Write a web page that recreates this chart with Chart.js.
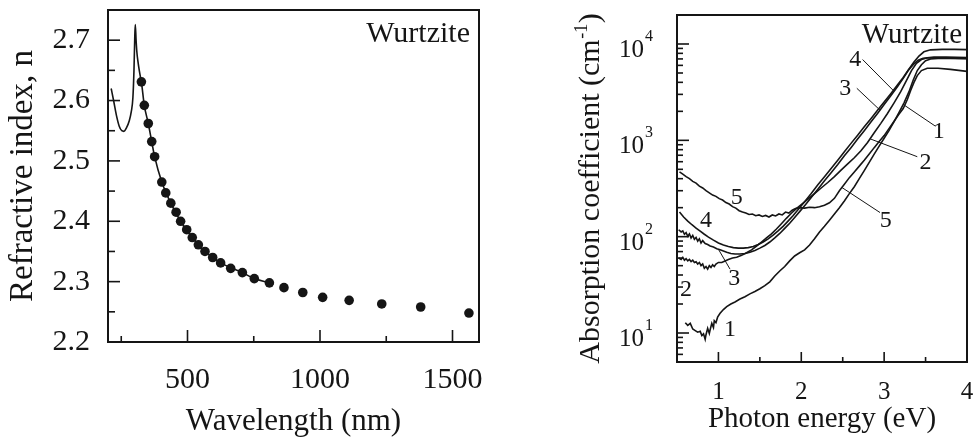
<!DOCTYPE html>
<html lang="en">
<head>
<meta charset="UTF-8">
<title>Wurtzite: refractive index and absorption</title>
<script src="https://cdn.jsdelivr.net/npm/chart.js"></script>
<style>
  html, body { margin: 0; padding: 0; background: #fff; overflow: hidden; }
  #wrap { position: relative; width: 975px; height: 440px; overflow: hidden; }
  canvas { position: absolute; top: 0; }
  #nChart { left: 0; }
  #alphaChart { left: 490px; }
</style>
</head>
<body>
<div id="wrap">
  <canvas id="nChart" width="490" height="440"></canvas>
  <canvas id="alphaChart" width="490" height="440"></canvas>
</div>
<script>
// ---- refractive index vs wavelength ----
const wlDots = [326, 337, 352, 365, 376, 403, 418, 437, 457, 474, 497, 518, 541, 566, 595, 625, 663, 707, 752, 809, 864, 935, 1010, 1110, 1233, 1380, 1562];
const nDots  = [2.631, 2.592, 2.562, 2.532, 2.507, 2.465, 2.447, 2.430, 2.415, 2.400, 2.386, 2.373, 2.361, 2.350, 2.340, 2.331, 2.322, 2.315, 2.305, 2.298, 2.290, 2.282, 2.274, 2.269, 2.263, 2.258, 2.248];
const wlLine = [212, 222, 232, 242, 252, 260, 270, 280, 288, 294, 298, 301, 303, 306, 309, 313, 318, 322, 326, 337, 352, 365, 376, 403, 437, 474, 518, 566, 625, 707, 752, 809, 825];
const nLine  = [2.620, 2.598, 2.575, 2.558, 2.550, 2.549, 2.555, 2.566, 2.582, 2.605, 2.650, 2.705, 2.726, 2.700, 2.680, 2.665, 2.650, 2.640, 2.631, 2.592, 2.562, 2.532, 2.507, 2.465, 2.430, 2.400, 2.373, 2.350, 2.331, 2.315, 2.305, 2.298, 2.296];
const wlTickLabels = [500, 1000, 1500];
const wlMinorTicks = [250, 750, 1250];
const nTickLabels = [2.2, 2.3, 2.4, 2.5, 2.6, 2.7];
const nMinorTicks = [2.25, 2.35, 2.45, 2.55, 2.65];

// ---- absorption coefficient vs photon energy, samples 1-5 ----
const e1 = [0.60, 0.63, 0.66, 0.69, 0.72, 0.75, 0.78, 0.80, 0.82, 0.84, 0.85, 0.87, 0.89, 0.90, 0.92, 0.94, 0.95, 0.97, 0.99, 1.02, 1.06, 1.10, 1.15, 1.20, 1.26, 1.32, 1.38, 1.44, 1.50, 1.56, 1.62, 1.68, 1.74, 1.80, 1.86, 1.92, 1.98, 2.04, 2.10, 2.16, 2.22, 2.28, 2.34, 2.40, 2.46, 2.52, 2.58, 2.64, 2.70, 2.76, 2.82, 2.88, 2.94, 3.00, 3.06, 3.12, 3.18, 3.24, 3.30, 3.35, 3.40, 3.45, 3.50, 3.56, 3.65, 3.80, 4.00];
const a1 = [12.8, 12.0, 12.6, 11.0, 10.6, 10.2, 10.4, 9.4, 9.8, 8.6, 9.6, 11.2, 9.9, 10.8, 12.6, 11.4, 13.4, 12.8, 14.6, 16.0, 17.5, 18.8, 20.0, 21.0, 22.5, 23.8, 25.5, 27.0, 28.8, 31.0, 34, 39, 44, 49, 56, 63, 68, 73, 82, 95, 112, 128, 148, 172, 200, 235, 280, 330, 400, 485, 590, 720, 870, 1050, 1270, 1560, 1950, 2450, 3200, 4200, 5300, 6100, 6700, 7000, 7100, 7100, 7050];
const e2 = [0.52, 0.55, 0.57, 0.59, 0.61, 0.63, 0.65, 0.67, 0.69, 0.71, 0.73, 0.75, 0.77, 0.79, 0.81, 0.83, 0.85, 0.87, 0.89, 0.91, 0.93, 0.95, 0.97, 1.00, 1.04, 1.08, 1.12, 1.17, 1.22, 1.28, 1.34, 1.40, 1.46, 1.52, 1.58, 1.64, 1.70, 1.76, 1.82, 1.88, 1.94, 2.00, 2.08, 2.16, 2.24, 2.32, 2.40, 2.48, 2.56, 2.64, 2.72, 2.80, 2.88, 2.96, 3.04, 3.12, 3.20, 3.27, 3.33, 3.39, 3.45, 3.52, 3.60, 3.75, 4.00];
const a2 = [60, 58, 61, 57, 59, 56, 58, 55, 57, 54, 55, 52, 54, 50, 52, 47, 49, 46, 50, 48, 51, 49, 52, 54, 54, 56, 58, 60, 61, 64, 68, 73, 80, 88, 97, 107, 120, 136, 155, 175, 195, 215, 245, 280, 320, 365, 420, 490, 570, 660, 780, 950, 1200, 1500, 1900, 2450, 3200, 4200, 5300, 6300, 6900, 7200, 7300, 7300, 7250];
const e3 = [0.52, 0.55, 0.57, 0.59, 0.61, 0.63, 0.65, 0.67, 0.69, 0.71, 0.73, 0.75, 0.77, 0.79, 0.81, 0.84, 0.87, 0.90, 0.94, 0.98, 1.02, 1.06, 1.10, 1.15, 1.20, 1.26, 1.32, 1.38, 1.44, 1.50, 1.56, 1.62, 1.68, 1.74, 1.80, 1.86, 1.92, 1.98, 2.05, 2.12, 2.20, 2.28, 2.36, 2.44, 2.52, 2.60, 2.68, 2.76, 2.84, 2.92, 3.00, 3.08, 3.16, 3.23, 3.29, 3.35, 3.41, 3.47, 3.55, 3.70, 4.00];
const a3 = [118, 112, 115, 106, 110, 101, 107, 97, 103, 94, 98, 90, 95, 86, 91, 85, 83, 80, 78, 75, 73, 71, 69, 67, 66, 66, 67, 69, 72, 76, 81, 88, 97, 108, 122, 138, 158, 182, 215, 255, 310, 380, 460, 560, 690, 840, 1030, 1260, 1550, 1900, 2350, 2900, 3600, 4400, 5300, 6100, 6800, 7100, 7200, 7150, 7100];
const e4 = [0.53, 0.58, 0.63, 0.68, 0.73, 0.78, 0.83, 0.88, 0.94, 1.00, 1.06, 1.12, 1.18, 1.24, 1.30, 1.36, 1.42, 1.48, 1.54, 1.60, 1.66, 1.72, 1.78, 1.84, 1.90, 1.96, 2.04, 2.12, 2.20, 2.28, 2.36, 2.44, 2.52, 2.60, 2.68, 2.76, 2.84, 2.92, 3.00, 3.08, 3.16, 3.23, 3.30, 3.36, 3.42, 3.48, 3.56, 3.70, 3.85, 4.00];
const a4 = [180, 160, 145, 133, 123, 114, 106, 99, 92, 86, 82, 79, 77, 76, 76, 77, 79, 83, 88, 95, 104, 115, 128, 145, 165, 190, 230, 280, 345, 420, 510, 620, 760, 930, 1130, 1380, 1680, 2050, 2500, 3050, 3750, 4500, 5500, 6500, 7500, 8300, 8700, 8800, 8800, 8750];
const e5 = [0.53, 0.57, 0.61, 0.65, 0.69, 0.73, 0.77, 0.81, 0.85, 0.89, 0.93, 0.97, 1.01, 1.05, 1.09, 1.13, 1.17, 1.21, 1.25, 1.29, 1.33, 1.37, 1.41, 1.45, 1.49, 1.53, 1.57, 1.61, 1.65, 1.69, 1.73, 1.77, 1.81, 1.85, 1.89, 1.93, 1.98, 2.04, 2.10, 2.16, 2.22, 2.28, 2.34, 2.40, 2.46, 2.52, 2.58, 2.64, 2.70, 2.76, 2.82, 2.88, 2.94, 3.00, 3.06, 3.12, 3.18, 3.23, 3.28, 3.32, 3.36, 3.40, 3.45, 3.52, 3.65, 3.80, 4.00];
const a5 = [470, 445, 420, 400, 375, 360, 335, 320, 300, 285, 270, 262, 248, 240, 226, 218, 205, 198, 186, 180, 176, 170, 172, 165, 168, 162, 166, 160, 168, 164, 172, 168, 180, 176, 188, 196, 200, 198, 202, 200, 204, 212, 225, 250, 300, 350, 410, 470, 540, 620, 720, 840, 970, 1120, 1330, 1580, 1870, 2140, 2650, 3300, 4000, 4700, 5300, 5600, 5600, 5450, 5200];
const energyTickLabels = [1, 2, 3, 4];
const energyMinorTicks = [1.5, 2.5, 3.5];
const alphaDecades = [1, 2, 3, 4];
const alphaMinorTicks = [5, 6, 7, 8, 9, 20, 30, 40, 50, 60, 70, 80, 90, 200, 300, 400, 500, 600, 700, 800, 900, 2000, 3000, 4000, 5000, 6000, 7000, 8000, 9000];

// curve numbers: label text, label centre (E, alpha), leader start (E, alpha), leader end energy on the curve
const tagText   = ['4', '3', '1', '2', '5', '5', '4', '3', '2', '1'];
const tagE      = [2.65, 2.53, 3.66, 3.50, 3.02, 1.22, 0.85, 1.19, 0.61, 1.14];
const tagAlpha  = [6900, 3470, 1230, 590, 148, 251, 145, 37, 28, 10.8];
const leadFromE = [2.74, 2.67, 3.62, 3.40, 2.95, null, null, 1.14, null, null];
const leadFromA = [6900, 3470, 1400, 676, 178, null, null, 46, null, null];
const leadToE   = [3.11, 2.95, 3.23, 2.83, 2.49, null, null, 1.00, null, null];

const ink = '#151515';
const serif = '"Liberation Serif", "Times New Roman", serif';
Chart.defaults.font.family = serif;
Chart.defaults.color = ink;

const pts = (xs, ys) => xs.map((x, i) => ({ x: x, y: ys[i] }));
const curves = [[e1, a1], [e2, a2], [e3, a3], [e4, a4], [e5, a5]];

// alpha of a curve at energy e, interpolated on the log scale
function alphaAt(k, e) {
  const [es, as] = curves[k];
  for (let i = 1; i < es.length; i++) {
    if (es[i] >= e) {
      const t = (e - es[i - 1]) / (es[i] - es[i - 1]);
      return Math.pow(10, Math.log10(as[i - 1]) + t * (Math.log10(as[i]) - Math.log10(as[i - 1])));
    }
  }
  return as[as.length - 1];
}

// box frame, inward ticks and the "Wurtzite" tag
const panelDecor = {
  id: 'panelDecor',
  afterDraw(chart, args, o) {
    const { ctx, chartArea: a, scales: { x, y } } = chart;
    ctx.save();
    ctx.strokeStyle = ink;
    ctx.lineWidth = 1.6;
    const seg = (x0, y0, x1, y1) => { ctx.beginPath(); ctx.moveTo(x0, y0); ctx.lineTo(x1, y1); ctx.stroke(); };
    o.xMajor.forEach(v => { const p = x.getPixelForValue(v); seg(p, a.bottom, p, a.bottom - o.xMajorLen); });
    o.xMinor.forEach(v => { const p = x.getPixelForValue(v); seg(p, a.bottom, p, a.bottom - o.xMinorLen); });
    o.yMajor.forEach(v => { const p = y.getPixelForValue(v); seg(a.left, p, a.left + o.yMajorLen, p); });
    o.yMinor.forEach(v => { const p = y.getPixelForValue(v); seg(a.left, p, a.left + o.yMinorLen, p); });
    ctx.lineWidth = 2;
    ctx.strokeRect(a.left, a.top, a.right - a.left, a.bottom - a.top);
    ctx.fillStyle = ink;
    ctx.font = o.tagSize + 'px ' + serif;
    ctx.textAlign = 'right';
    ctx.textBaseline = 'alphabetic';
    ctx.fillText('Wurtzite', a.right - o.tagDx, a.top + o.tagDy);
    ctx.restore();
  }
};

// ---- left panel ----
new Chart(document.getElementById('nChart'), {
  type: 'scatter',
  data: {
    datasets: [
      { data: pts(wlDots, nDots), pointRadius: 4.8, pointBackgroundColor: ink, pointBorderWidth: 0 },
      { data: pts(wlLine, nLine), showLine: true, pointRadius: 0, borderColor: ink, borderWidth: 1.6, cubicInterpolationMode: 'monotone' }
    ]
  },
  options: {
    responsive: false,
    animation: false,
    layout: { padding: { top: 10, right: 11, left: 0, bottom: 0 } },
    plugins: {
      legend: { display: false },
      tooltip: { enabled: false },
      panelDecor: { xMajor: wlTickLabels, xMinor: wlMinorTicks, yMajor: nTickLabels, yMinor: nMinorTicks,
                    xMajorLen: 12, xMinorLen: 6, yMajorLen: 12, yMinorLen: 7, tagSize: 30, tagDx: 9, tagDy: 32 }
    },
    scales: {
      x: {
        type: 'linear', min: 200, max: 1600,
        afterBuildTicks: s => { s.ticks = wlTickLabels.map(v => ({ value: v })); },
        afterFit: s => { s.height = 98; s.paddingLeft = 0; s.paddingRight = 0; },
        grid: { display: false, drawTicks: false },
        border: { display: false },
        ticks: { font: { family: serif, size: 30 }, padding: 20, maxRotation: 0, callback: v => String(v) },
        title: { display: true, text: 'Wavelength (nm)', font: { family: serif, size: 31 }, padding: { top: 0, bottom: 0 } }
      },
      y: {
        min: 2.2, max: 2.75,
        afterBuildTicks: s => { s.ticks = nTickLabels.map(v => ({ value: v })); },
        afterFit: s => { s.width = 108; s.paddingTop = 0; s.paddingBottom = 0; },
        grid: { display: false, drawTicks: false },
        border: { display: false },
        ticks: { font: { family: serif, size: 30 }, padding: 18, callback: v => v.toFixed(1) },
        title: { display: true, text: 'Refractive index, n', font: { family: serif, size: 33 }, padding: { top: 4, bottom: 0 } }
      }
    }
  },
  plugins: [panelDecor]
});

// curve numbers with leader lines, powers of ten and the rotated unit title
const alphaText = {
  id: 'alphaText',
  afterDraw(chart) {
    const { ctx, chartArea: a, scales: { x, y } } = chart;
    ctx.save();
    ctx.fillStyle = ink;
    ctx.strokeStyle = ink;
    ctx.lineWidth = 1;
    ctx.textAlign = 'center';
    ctx.textBaseline = 'middle';
    ctx.font = '24px ' + serif;
    tagText.forEach((t, i) => {
      ctx.fillText(t, x.getPixelForValue(tagE[i]), y.getPixelForValue(tagAlpha[i]));
      if (leadToE[i] !== null) {
        const k = Number(t) - 1;
        ctx.beginPath();
        ctx.moveTo(x.getPixelForValue(leadFromE[i]), y.getPixelForValue(leadFromA[i]));
        ctx.lineTo(x.getPixelForValue(leadToE[i]), y.getPixelForValue(alphaAt(k, leadToE[i])));
        ctx.stroke();
      }
    });

    // 10^n labels
    ctx.textAlign = 'left';
    ctx.textBaseline = 'alphabetic';
    alphaDecades.forEach(p => {
      const py = y.getPixelForValue(Math.pow(10, p));
      ctx.font = '16px ' + serif;
      const ew = ctx.measureText(String(p)).width;
      ctx.font = '25px ' + serif;
      const bw = ctx.measureText('10').width;
      const right = a.left - 24;
      ctx.fillText('10', right - ew - 1 - bw, py + 13);
      ctx.font = '16px ' + serif;
      ctx.fillText(String(p), right - ew, py - 3);
    });

    // y title with superscript unit
    const main = 'Absorption coefficient (cm';
    const sup = '-1';
    ctx.font = '30px ' + serif;
    const mw = ctx.measureText(main).width;
    const cw = ctx.measureText(')').width;
    ctx.font = '18px ' + serif;
    const sw = ctx.measureText(sup).width;
    const total = mw + sw + 1 + cw;
    ctx.translate(a.left - 78, (a.top + a.bottom) / 2);
    ctx.rotate(-Math.PI / 2);
    ctx.font = '30px ' + serif;
    ctx.fillText(main, -total / 2, 0);
    ctx.fillText(')', -total / 2 + mw + sw + 1, 0);
    ctx.font = '18px ' + serif;
    ctx.fillText(sup, -total / 2 + mw + 0.5, -12);
    ctx.restore();
  }
};

// ---- right panel ----
new Chart(document.getElementById('alphaChart'), {
  type: 'scatter',
  data: {
    datasets: curves.map(c => ({
      data: pts(c[0], c[1]), showLine: true, pointRadius: 0, borderColor: ink, borderWidth: 1.6
    }))
  },
  options: {
    responsive: false,
    animation: false,
    layout: { padding: { top: 15, right: 13, left: 0, bottom: 0 } },
    plugins: {
      legend: { display: false },
      tooltip: { enabled: false },
      panelDecor: { xMajor: energyTickLabels, xMinor: energyMinorTicks, yMajor: alphaDecades.map(p => Math.pow(10, p)), yMinor: alphaMinorTicks,
                    xMajorLen: 10, xMinorLen: 5, yMajorLen: 12, yMinorLen: 6, tagSize: 29, tagDx: 5, tagDy: 28 }
    },
    scales: {
      x: {
        type: 'linear', min: 0.5, max: 4,
        afterBuildTicks: s => { s.ticks = energyTickLabels.map(v => ({ value: v })); },
        afterFit: s => { s.height = 78; s.paddingLeft = 0; s.paddingRight = 0; },
        grid: { display: false, drawTicks: false },
        border: { display: false },
        ticks: { font: { family: serif, size: 25 }, padding: 15, maxRotation: 0, callback: v => String(v) },
        title: { display: true, text: 'Photon energy (eV)', font: { family: serif, size: 29 }, padding: { top: 0, bottom: 3 } }
      },
      y: {
        type: 'logarithmic', min: 5, max: 20000,
        afterFit: s => { s.width = 187; s.paddingTop = 0; s.paddingBottom = 0; },
        grid: { display: false, drawTicks: false },
        border: { display: false },
        ticks: { display: false }
      }
    }
  },
  plugins: [panelDecor, alphaText]
});
</script>
</body>
</html>
